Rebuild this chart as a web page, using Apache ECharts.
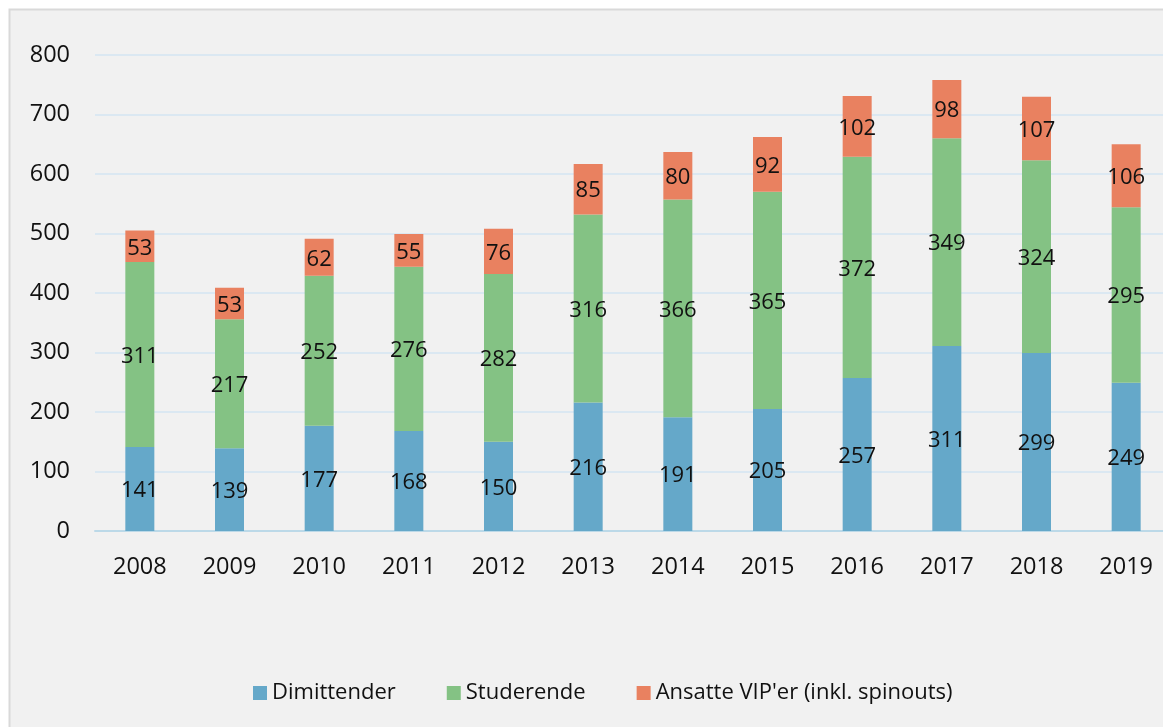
<!DOCTYPE html>
<html><head><meta charset="utf-8">
<script src="https://cdn.jsdelivr.net/npm/echarts@6/dist/echarts.min.js"></script>
<style>html,body{margin:0;padding:0;background:#fff;overflow:hidden}#c{width:1180px;height:727px}</style>
</head><body><div id="c"></div>
<script>
const years = ['2008','2009','2010','2011','2012','2013','2014','2015','2016','2017','2018','2019'];
const dimittender = [141,139,177,168,150,216,191,205,257,311,299,249];
const studerende = [311,217,252,276,282,316,366,365,372,349,324,295];
const ansatte = [53,53,62,55,76,85,80,92,102,98,107,106];
const seriesNames = ['Dimittender','Studerende',"Ansatte VIP'er (inkl. spinouts)"];
const colors = ['#65a8c9','#84c284','#e98160'];

const chart = echarts.init(document.getElementById('c'), null, {renderer:'canvas'});
const font = '"Open Sans", "Noto Sans", sans-serif';
const lbl = {show:true, position:'inside', color:'#111', fontSize:22, fontFamily:font, offset:[0,2]};
const mk = (name, data, i) => ({
  name, type:'bar', stack:'s', data, barWidth:29,
  itemStyle:{color:colors[i]}, label:lbl, emphasis:{disabled:true}
});
chart.setOption({
  backgroundColor:'#fff',
  animation:false,
  graphic:[{type:'rect', z:-10, silent:true, shape:{x:9.5,y:9.5,width:1200,height:800},
    style:{fill:'#f1f1f1', stroke:'#d9d9d9', lineWidth:2}}],
  grid:{left:95, top:55, width:1076, height:476, containLabel:false},
  legend:{bottom:18, left:248, itemWidth:14, itemHeight:14, itemGap:51, icon:'rect',
    textStyle:{fontSize:22, color:'#111', fontFamily:font}, data:seriesNames},
  xAxis:{type:'category', data:years, axisTick:{show:false},
    axisLine:{lineStyle:{color:'#bcd9e8', width:2}},
    axisLabel:{fontSize:23.5, color:'#111', fontFamily:font, margin:24}},
  yAxis:{type:'value', min:0, max:800, interval:100,
    axisLine:{show:false}, axisTick:{show:false},
    splitLine:{lineStyle:{color:'#dbe8f2', width:2}},
    axisLabel:{fontSize:23.5, color:'#111', fontFamily:font, margin:25}},
  series:[mk(seriesNames[0],dimittender,0), mk(seriesNames[1],studerende,1), mk(seriesNames[2],ansatte,2)]
});
</script></body></html>
